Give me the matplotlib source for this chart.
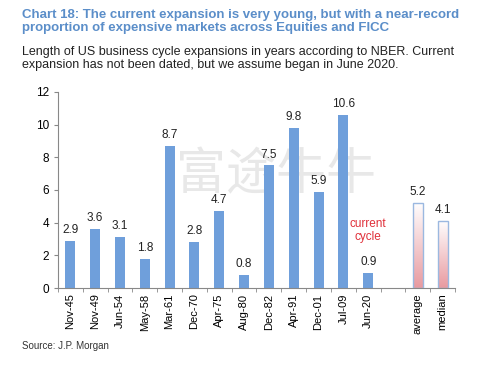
import matplotlib
matplotlib.use("Agg")
import matplotlib.pyplot as plt
import numpy as np
from matplotlib.patches import Rectangle
from matplotlib.colors import LinearSegmentedColormap

categories = ["Nov-45", "Nov-49", "Jun-54", "May-58", "Mar-61", "Dec-70", "Apr-75",
              "Aug-80", "Dec-82", "Apr-91", "Dec-01", "Jul-09", "Jun-20"]
values = [2.9, 3.6, 3.1, 1.8, 8.7, 2.8, 4.7, 0.8, 7.5, 9.8, 5.9, 10.6, 0.9]
summary_labels = ["average", "median"]
summary_values = [5.2, 4.1]

plt.rcParams['font.family'] = ['Liberation Sans', 'DejaVu Sans']

fig = plt.figure(figsize=(4.99, 3.66), dpi=100)
ax = fig.add_axes([0.116, 0.213, 0.796, 0.536])

blue = "#6f9fdb"
n = len(categories)
xs = np.arange(n)
bw = 0.4
ax.bar(xs, values, width=bw, color=blue, zorder=2)
for x, v in zip(xs, values):
    ax.text(x, v + 0.3, f"{v}", ha="center", va="bottom", fontsize=8.5, color="#222222", zorder=4)

sx = np.arange(n + 1, n + 1 + len(summary_values))
grad = np.linspace(0, 1, 256).reshape(-1, 1)
cmap = LinearSegmentedColormap.from_list("g", ["#e89aa0", "#ffffff"])
for x, v in zip(sx, summary_values):
    ax.imshow(grad, extent=[x - bw / 2, x + bw / 2, 0, v], origin="lower",
              cmap=cmap, aspect="auto", zorder=2)
    ax.add_patch(Rectangle((x - bw / 2, 0), bw, v, fill=False, edgecolor="#9bb8e0",
                           lw=1.0, zorder=3))
    ax.text(x, v + 0.3, f"{v}", ha="center", va="bottom", fontsize=8.5, color="#222222", zorder=4)

ax.text(xs[-1], 2.75, "current\ncycle", ha="center", va="bottom", fontsize=8.5,
        color="#e0303a", linespacing=1.1, zorder=4)

# watermark (behind the bars)
ax.text(8.3, 6.9, "富途牛牛", fontsize=36, color="#e8e8e8", ha="center", va="center",
        family=['Noto Sans CJK SC', 'DejaVu Sans'], zorder=0)

ax.set_xlim(-0.5, n + len(summary_values) + 0.5)
ax.set_ylim(0, 12)
ax.set_yticks(range(0, 13, 2))
ax.set_xticks(list(xs) + list(sx))
ax.set_xticklabels(categories + summary_labels, rotation=90, fontsize=8)
ax.set_xticks(np.arange(-0.5, n + len(summary_values) + 0.6, 1), minor=True)
ax.tick_params(axis="x", which="major", length=0, pad=4)
ax.tick_params(axis="x", which="minor", length=3, color="#888888")
ax.tick_params(axis="y", labelsize=8.5, length=3, color="#888888")
for s in ["top", "right"]:
    ax.spines[s].set_visible(False)
for s in ["left", "bottom"]:
    ax.spines[s].set_color("#888888")

fig.text(0.045, 0.975, "Chart 18: The current expansion is very young, but with a near-record\n"
         "proportion of expensive markets across Equities and FICC",
         ha="left", va="top", fontsize=9.5, fontweight="bold", color="#5b8ec9", linespacing=1.05)
fig.text(0.045, 0.875, "Length of US business cycle expansions in years according to NBER. Current\n"
         "expansion has not been dated, but we assume began in June 2020.",
         ha="left", va="top", fontsize=9, color="#222222", linespacing=1.15)
fig.text(0.045, 0.055, "Source: J.P. Morgan", ha="left", va="center", fontsize=7, color="#333333")

fig.savefig("out.png", dpi=100)
